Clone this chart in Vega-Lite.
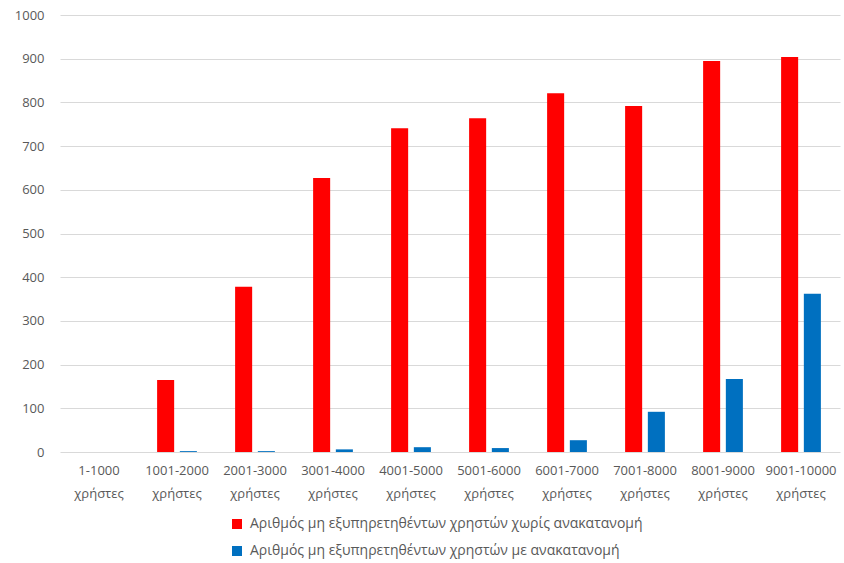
{
  "$schema": "https://vega.github.io/schema/vega-lite/v6.json",
  "autosize": {"type": "none"},
  "width": 780,
  "height": 437,
  "padding": {"left": 60, "top": 15, "right": 4, "bottom": 111},
  "config": {
    "view": {"stroke": null},
    "font": "Open Sans",
    "axis": {"labelFont": "Open Sans", "labelColor": "#595959", "labelFontSize": 13},
    "legend": {"labelFont": "Open Sans", "labelColor": "#595959", "labelFontSize": 14}
  },
  "data": {
    "values": [
      {"cat": "1-1000 χρήστες", "series": "Αριθμός μη εξυπηρετηθέντων χρηστών χωρίς ανακατανομή", "value": 0},
      {"cat": "1-1000 χρήστες", "series": "Αριθμός μη εξυπηρετηθέντων χρηστών με ανακατανομή", "value": 0},
      {"cat": "1001-2000 χρήστες", "series": "Αριθμός μη εξυπηρετηθέντων χρηστών χωρίς ανακατανομή", "value": 165},
      {"cat": "1001-2000 χρήστες", "series": "Αριθμός μη εξυπηρετηθέντων χρηστών με ανακατανομή", "value": 2},
      {"cat": "2001-3000 χρήστες", "series": "Αριθμός μη εξυπηρετηθέντων χρηστών χωρίς ανακατανομή", "value": 378},
      {"cat": "2001-3000 χρήστες", "series": "Αριθμός μη εξυπηρετηθέντων χρηστών με ανακατανομή", "value": 2},
      {"cat": "3001-4000 χρήστες", "series": "Αριθμός μη εξυπηρετηθέντων χρηστών χωρίς ανακατανομή", "value": 627},
      {"cat": "3001-4000 χρήστες", "series": "Αριθμός μη εξυπηρετηθέντων χρηστών με ανακατανομή", "value": 6},
      {"cat": "4001-5000 χρήστες", "series": "Αριθμός μη εξυπηρετηθέντων χρηστών χωρίς ανακατανομή", "value": 741},
      {"cat": "4001-5000 χρήστες", "series": "Αριθμός μη εξυπηρετηθέντων χρηστών με ανακατανομή", "value": 11},
      {"cat": "5001-6000 χρήστες", "series": "Αριθμός μη εξυπηρετηθέντων χρηστών χωρίς ανακατανομή", "value": 764},
      {"cat": "5001-6000 χρήστες", "series": "Αριθμός μη εξυπηρετηθέντων χρηστών με ανακατανομή", "value": 9},
      {"cat": "6001-7000 χρήστες", "series": "Αριθμός μη εξυπηρετηθέντων χρηστών χωρίς ανακατανομή", "value": 821},
      {"cat": "6001-7000 χρήστες", "series": "Αριθμός μη εξυπηρετηθέντων χρηστών με ανακατανομή", "value": 27},
      {"cat": "7001-8000 χρήστες", "series": "Αριθμός μη εξυπηρετηθέντων χρηστών χωρίς ανακατανομή", "value": 792},
      {"cat": "7001-8000 χρήστες", "series": "Αριθμός μη εξυπηρετηθέντων χρηστών με ανακατανομή", "value": 92},
      {"cat": "8001-9000 χρήστες", "series": "Αριθμός μη εξυπηρετηθέντων χρηστών χωρίς ανακατανομή", "value": 895},
      {"cat": "8001-9000 χρήστες", "series": "Αριθμός μη εξυπηρετηθέντων χρηστών με ανακατανομή", "value": 167},
      {"cat": "9001-10000 χρήστες", "series": "Αριθμός μη εξυπηρετηθέντων χρηστών χωρίς ανακατανομή", "value": 904},
      {"cat": "9001-10000 χρήστες", "series": "Αριθμός μη εξυπηρετηθέντων χρηστών με ανακατανομή", "value": 362}
    ]
  },
  "mark": {"type": "bar"},
  "encoding": {
    "x": {
      "field": "cat", "type": "nominal", "sort": null, "title": null,
      "scale": {"paddingInner": 0.49, "paddingOuter": 0.245},
      "axis": {"labelAngle": 0, "labelExpr": "split(datum.label, ' ')", "ticks": false, "domain": false, "labelPadding": 12, "labelLineHeight": 23}
    },
    "xOffset": {
      "field": "series", "type": "nominal",
      "sort": ["Αριθμός μη εξυπηρετηθέντων χρηστών χωρίς ανακατανομή", "Αριθμός μη εξυπηρετηθέντων χρηστών με ανακατανομή"],
      "scale": {"paddingInner": 0.25}
    },
    "y": {
      "field": "value", "type": "quantitative", "title": null,
      "scale": {"domain": [0, 1000]},
      "axis": {"values": [0,100,200,300,400,500,600,700,800,900,1000], "format": "d", "labelOverlap": false, "ticks": false, "domain": false, "labelPadding": 16, "gridColor": "#d9d9d9"}
    },
    "color": {
      "field": "series", "type": "nominal",
      "scale": {"domain": ["Αριθμός μη εξυπηρετηθέντων χρηστών χωρίς ανακατανομή", "Αριθμός μη εξυπηρετηθέντων χρηστών με ανακατανομή"], "range": ["#ff0000", "#0070c0"]},
      "legend": {"orient": "none", "legendX": 170, "legendY": 502, "direction": "vertical", "title": null, "symbolType": "square", "symbolSize": 100, "symbolStrokeWidth": 0, "labelLimit": 600, "rowPadding": 13, "labelOffset": 6}
    }
  }
}
